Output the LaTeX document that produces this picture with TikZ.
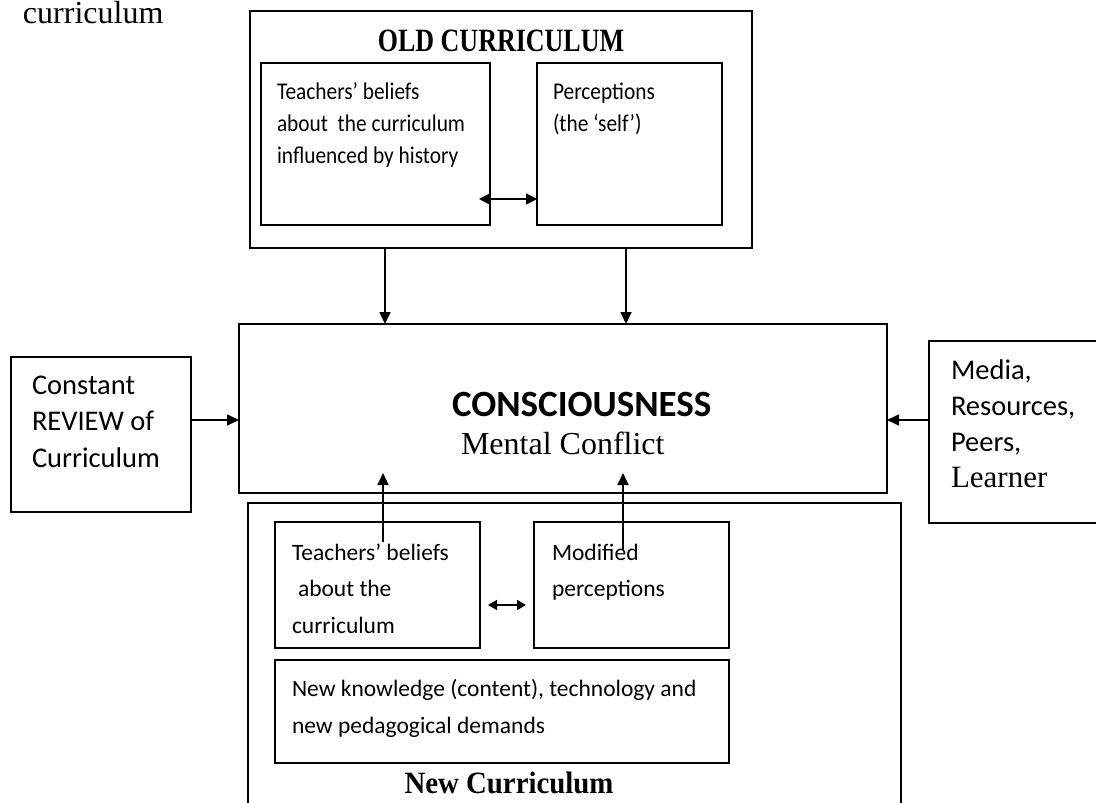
\documentclass[tikz,border=0pt]{standalone}
\usepackage{fontspec}
\usepackage{graphicx}
\setmainfont{Carlito}
\newfontfamily\narrowcal{Carlito}[FakeStretch=0.89]
\newfontfamily\tms{Liberation Serif}
\usetikzlibrary{arrows.meta,fit}
% left-aligned block of lines; the block's baseline is that of its first line
\newcommand\boxlines[3]{{\fontsize{#1}{#2}\selectfont\begin{tabular}[t]{@{}l@{}}#3\end{tabular}}}
\begin{document}
\begin{tikzpicture}[x=1pt,y=-1pt,
  box/.style={draw, line width=1.8pt, inner sep=0pt, outer sep=0pt},
  lbl/.style={anchor=base west, inner sep=0pt, outer sep=0pt},
  ttl/.style={anchor=base, inner sep=0pt, outer sep=0pt},
  arr/.style={line width=1.7pt, -{Triangle[length=12pt,width=11pt]}},
  dbl/.style={line width=1.7pt, {Triangle[length=11pt,width=11pt]}-{Triangle[length=11pt,width=11pt]}},
  sdbl/.style={line width=1.7pt, {Triangle[length=9pt,width=10pt]}-{Triangle[length=9pt,width=10pt]}}]
\useasboundingbox (0,0) rectangle (1096,803);
\clip (0,0) rectangle (1096,803);

% boxes
\node[box, fit={(250,11) (752,248)}] (oldbox) {};
\node[box, fit={(261,63) (490,225)}] (oldL) {};
\node[box, fit={(537,63) (722,225)}] (oldR) {};
\node[box, fit={(239,324) (887,493)}] (cons) {};
\node[box, fit={(11,357) (191,512)}] (review) {};
\node[box, fit={(929,341) (1120,523)}] (media) {};
\node[box, fit={(248,503) (901,830)}] (newbox) {};
\node[box, fit={(275,522) (480,648)}] (newL) {};
\node[box, fit={(534,522) (729,648)}] (newR) {};
\node[box, fit={(275,660) (729,763)}] (know) {};

% texts
\node[lbl] (tCurr) at (23,23.5) {\tms\fontsize{32}{38}\selectfont curriculum};
\node[ttl] (tOld) at (501,51.7) {\tms\bfseries\fontsize{32.5}{38}\selectfont\scalebox{0.8}[1]{OLD CURRICULUM}};
\node[lbl] (tOldL) at (277,99.3) {\narrowcal\boxlines{24}{32}{Teachers’ beliefs\\about\ \ the curriculum\\influenced by history}};
\node[lbl] (tOldR) at (553,99.3) {\narrowcal\boxlines{24}{32}{Perceptions\\(the ‘self’)}};
\node[lbl] (tCons) at (452,416) {\bfseries\fontsize{37}{44}\selectfont CONSCIOUSNESS};
\node[lbl] (tMental) at (461,454) {\tms\fontsize{32}{38}\selectfont Mental Conflict};
\node[lbl] (tReview) at (32,394) {\boxlines{28.5}{36.7}{Constant\\REVIEW of\\Curriculum}};
\node[lbl] (tMedia) at (951,379) {\boxlines{28.5}{36}{Media,\\Resources,\\Peers,\\{\tms\fontsize{31}{36}\selectfont Learner}}};
\node[lbl] (tNewL) at (292,560) {\boxlines{23.5}{36.5}{Teachers’ beliefs\\\hspace{6pt}about the\\curriculum}};
\node[lbl] (tNewR) at (552,560) {\boxlines{23.5}{36.5}{Modified\\perceptions}};
\node[lbl] (tKnow) at (292,696) {\boxlines{23.5}{37}{New knowledge (content), technology and\\new pedagogical demands}};
\node[ttl] (tNew) at (509,793) {\tms\bfseries\fontsize{31}{36}\selectfont\scalebox{0.93}[1]{New Curriculum}};

% connectors
\draw[dbl] ([shift={(-11,55)}]oldL.east) -- ([shift={(0,55)}]oldR.west);
\draw[arr] ([shift={(-116,0)}]oldbox.south) -- ([shift={(-178,0)}]cons.north);
\draw[arr] ([shift={(125,0)}]oldbox.south) -- ([shift={(63,0)}]cons.north);
\draw[arr] ([shift={(0,-14.5)}]review.east) -- ([shift={(0,11.5)}]cons.west);
\draw[arr] ([shift={(0,-12)}]media.west) -- ([shift={(0,11.5)}]cons.east);
\draw[arr] ([shift={(5.5,20)}]newL.north) -- ([shift={(-180,-20)}]cons.south);
\draw[arr] ([shift={(-8.5,28)}]newR.north) -- ([shift={(60,-20)}]cons.south);
\draw[sdbl] ([shift={(8,20)}]newL.east) -- ([shift={(-8,20)}]newR.west);
\end{tikzpicture}
\end{document}
